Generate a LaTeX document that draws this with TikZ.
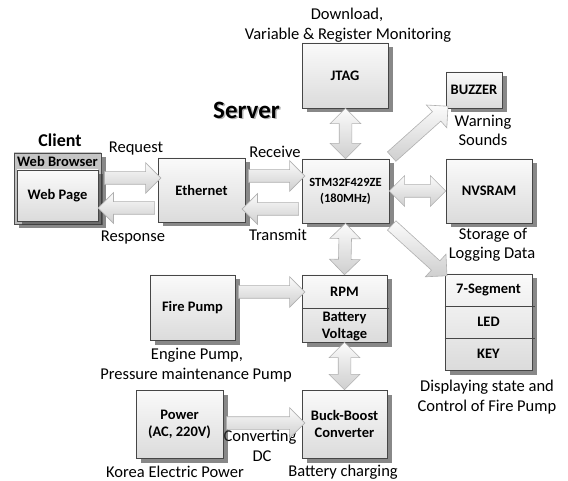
\documentclass[tikz,border=0pt]{standalone}
\usepackage{fontspec}
\setmainfont{Carlito}
\usetikzlibrary{shapes.arrows,shadows,calc}

\newcommand\bxfont{\fontsize{14.5}{17}\selectfont\bfseries}
\newcommand\lbfont{\fontsize{16.5}{19}\selectfont}

% fat hollow arrow laid between two named points
\newcommand\fatlink[3]{%
  \path let \p1=($(#3)-(#2)$), \n1={veclen(\x1,\y1)}, \n2={atan2(\y1,\x1)} in
    node[#1, minimum height=\n1, rotate=\n2] at ($(#2)!0.5!(#3)$) {};}

\tikzset{
  box/.style={draw=gray!55!black, line width=0.6pt, top color=gray!4, bottom color=gray!28,
    drop shadow={shadow xshift=4.5pt, shadow yshift=-4.5pt, opacity=0.6, fill=gray!45!black},
    inner sep=0pt, font=\bxfont, align=center},
  lbl/.style={inner sep=0pt, font=\lbfont, align=center},
  fatbase/.style={draw=gray!62, line width=0.6pt, top color=gray!3, bottom color=gray!38,
    text height=0pt, text depth=0pt, inner xsep=0pt, inner ysep=6pt, minimum width=0pt},
  one/.style={fatbase, single arrow, single arrow head extend=9pt},
  two/.style={fatbase, double arrow, double arrow head extend=9pt},
}

\begin{document}
\begin{tikzpicture}[x=1pt,y=-1pt]
\useasboundingbox (0,0) rectangle (568,481);

% ---- titles and captions ----
\node[inner sep=0pt, font=\fontsize{25}{28}\selectfont\bfseries, text=gray!60] (srvsh) at (248,111.5) {Server};
\node[inner sep=0pt, font=\fontsize{25}{28}\selectfont\bfseries] (srv) at (246.5,110) {Server};
\node[inner sep=0pt, font=\fontsize{18}{20}\selectfont\bfseries] (cli) at (60,140) {Client};

\node[lbl] (t1) at (347,15) {Download,};
\node[lbl] (t2) at (348,35) {Variable \& Register Monitoring};
\node[lbl] (t3) at (136,149) {Request};
\node[lbl] (t4) at (133,238) {Response};
\node[lbl] (t5) at (275,152) {Receive};
\node[lbl] (t6) at (278,235) {Transmit};
\node[lbl] (t7) at (483,122) {Warning};
\node[lbl] (t8) at (483,140) {Sounds};
\node[lbl] (t9) at (493,235) {Storage of};
\node[lbl] (t10) at (492,254) {Logging Data};
\node[lbl] (t11) at (197,355) {Engine Pump,};
\node[lbl] (t12) at (196,375) {Pressure maintenance Pump};
\node[lbl] (t13) at (487,387) {Displaying state and};
\node[lbl] (t14) at (487,407) {Control of Fire Pump};
\node[lbl] (t15) at (175,472) {Korea Electric Power};
\node[lbl] (t16) at (343,472) {Battery charging};
\node[lbl] (t17) at (260,437) {Converting};
\node[lbl] (t18) at (262,456) {DC};

% ---- client: web browser frame with page ----
\node[box, top color=gray!45, bottom color=gray!55, draw=gray!60!black,
      minimum width=87pt, minimum height=71pt] (client) at (57.5,188.5) {};
\node[inner sep=0pt, font=\fontsize{14.5}{17}\selectfont\bfseries] (browser) at (57.5,161.5) {Web Browser};
\node[box, drop shadow={opacity=0}, minimum width=81pt, minimum height=51pt] (page) at (57.5,195.5) {Web Page};

% ---- blocks ----
\node[box, minimum width=87pt, minimum height=64pt] (eth) at (201.5,190) {Ethernet};
\node[box, minimum width=87pt, minimum height=64pt,
      font=\fontsize{12.5}{16}\selectfont\bfseries] (stm) at (345.5,191) {STM32F429ZE\\(180MHz)};
\node[box, minimum width=86pt, minimum height=65pt] (jtag) at (345,75.5) {JTAG};
\node[box, minimum width=56pt, minimum height=36pt] (buzz) at (474,90) {BUZZER};
\node[box, minimum width=86pt, minimum height=64pt] (nvs) at (489,191) {NVSRAM};
\node[box, minimum width=85pt, minimum height=65pt] (fire) at (192.5,307.5) {Fire Pump};
\node[box, minimum width=87pt, minimum height=68pt] (power) at (179.5,424) {Power\\(AC, 220V)};
\node[box, minimum width=85pt, minimum height=68pt] (buck) at (344.5,424) {Buck-Boost\\Converter};

% measurement block: RPM over battery voltage
\node[box, minimum width=85pt, minimum height=67pt] (meas) at (344.5,308.5) {};
\draw[gray!55!black, line width=0.6pt] (meas.west |- 0,308) -- ([xshift=2pt]meas.east |- 0,308);
\node[inner sep=0pt, font=\bxfont] (rpm) at (344.5,291.5) {RPM};
\node[inner sep=0pt, font=\bxfont, align=center] (batt) at (344.5,326.5) {Battery\\Voltage};

% display block: 7-segment, LED, key
\node[box, minimum width=87pt, minimum height=96pt] (disp) at (488.5,322) {};
\draw[gray!55!black, line width=0.6pt] (disp.west |- 0,306) -- ([xshift=3pt]disp.east |- 0,306);
\draw[gray!55!black, line width=0.6pt] (disp.west |- 0,338) -- ([xshift=3pt]disp.east |- 0,338);
\node[inner sep=0pt, font=\bxfont] (seg) at (488.5,290) {7-Segment};
\node[inner sep=0pt, font=\bxfont] (led) at (488.5,322) {LED};
\node[inner sep=0pt, font=\bxfont] (key) at (488.5,354) {KEY};

% ---- connector end points ----
\coordinate (rq0) at ([yshift=10.5pt]client.east);
\coordinate (rq1) at (eth.west |- rq0);
\coordinate (rs0) at ([yshift=-19.5pt]client.east);
\coordinate (rs1) at (eth.west |- rs0);
\coordinate (rc0) at ([yshift=14pt]eth.east);
\coordinate (rc1) at (stm.west |- rc0);
\coordinate (tx0) at ([yshift=-19pt]eth.east);
\coordinate (tx1) at (stm.west |- tx0);
\coordinate (jt0) at (jtag.south -| stm.north);
\coordinate (fp0) at ([yshift=15.5pt]fire.east);
\coordinate (fp1) at (meas.west |- fp0);
\coordinate (pw0) at ([yshift=1pt]power.east);
\coordinate (pw1) at (buck.west |- pw0);
\coordinate (bk0) at (buck.north -| meas.south);

% ---- connectors ----
\fatlink{one}{rq0}{rq1}
\fatlink{one}{rs1}{rs0}
\fatlink{one}{rc0}{rc1}
\fatlink{one}{tx1}{tx0}
\fatlink{two}{jt0}{stm.north}
\fatlink{two}{stm.east}{nvs.west}
\fatlink{one}{stm.north east}{buzz.south west}
\fatlink{one}{stm.south east}{disp.north west}
\fatlink{two}{stm.south}{meas.north}
\fatlink{one}{fp0}{fp1}
\fatlink{two}{meas.south}{bk0}
\fatlink{one}{pw0}{pw1}
\end{tikzpicture}
\end{document}
